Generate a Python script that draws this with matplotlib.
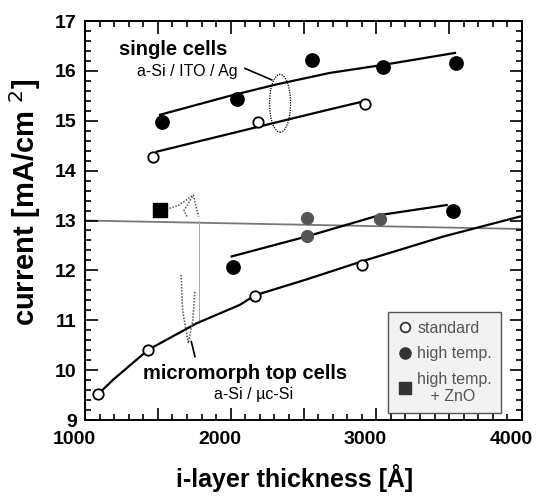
import matplotlib.pyplot as plt
import matplotlib.transforms as mtransforms
from matplotlib.patches import Ellipse
from matplotlib.ticker import FuncFormatter, MultipleLocator

plt.rcParams["font.family"] = ["Liberation Sans", "DejaVu Sans"]

# single cells a-Si / ITO / Ag
single_std_x = [1469, 2190, 2922]
single_std_y = [14.28, 14.98, 15.34]
single_hot_x = [1527, 2041, 2556, 3048, 3547]
single_hot_y = [14.98, 15.43, 16.21, 16.07, 16.16]

# micromorph top cells a-Si / uc-Si
micro_std_x = [1091, 1435, 2167, 2900]
micro_std_y = [9.52, 10.41, 11.49, 12.11]
micro_hot_x = [2018, 3528]
micro_hot_y = [12.06, 13.2]
micro_hot_grey_x = [2522, 2522, 3025]
micro_hot_grey_y = [12.68, 13.05, 13.03]
micro_zno_x = [1515]
micro_zno_y = [13.21]

# hand drawn guide lines
fit_single_hot_x = [1515, 1995, 2316, 2682, 3046, 3540]
fit_single_hot_y = [15.12, 15.5, 15.73, 15.96, 16.12, 16.36]
fit_single_std_x = [1492, 2190, 2682, 2900]
fit_single_std_y = [14.38, 14.88, 15.23, 15.38]
fit_micro_std_x = [1091, 1194, 1435, 1767, 2064, 2167, 2522, 2900, 3461, 3986]
fit_micro_std_y = [9.52, 9.81, 10.41, 10.94, 11.31, 11.5, 11.82, 12.18, 12.68, 13.08]
fit_micro_hot_x = [2007, 2522, 3025, 3483]
fit_micro_hot_y = [12.28, 12.68, 13.11, 13.31]

fig = plt.figure(figsize=(5.41, 4.98), dpi=100)
ax = fig.add_axes([0.1571, 0.1566, 0.8078, 0.8012])

# faint lines left by the scan
ax.plot([1000, 4000], [13.0, 12.83], color="#777777", lw=1.3, zorder=1)
ax.plot([1785, 1785], [13.0, 10.95], color="#aaaaaa", lw=0.7, zorder=1)

for fx, fy in [(fit_single_hot_x, fit_single_hot_y), (fit_single_std_x, fit_single_std_y),
               (fit_micro_std_x, fit_micro_std_y), (fit_micro_hot_x, fit_micro_hot_y)]:
    ax.plot(fx, fy, color="black", lw=1.6, zorder=2)

ax.plot(single_hot_x, single_hot_y, "o", ms=9.6, color="black", zorder=3)
ax.plot(single_std_x, single_std_y, "o", ms=7.5, mfc="white", mec="black", mew=1.3, zorder=3)
ax.plot(micro_std_x, micro_std_y, "o", ms=7.5, mfc="white", mec="black", mew=1.3, zorder=3)
ax.plot(micro_hot_x, micro_hot_y, "o", ms=9.6, color="black", zorder=3)
ax.plot(micro_hot_grey_x, micro_hot_grey_y, "o", ms=8.5, color="#555555", zorder=3)
ax.plot(micro_zno_x, micro_zno_y, "s", ms=10, color="black", zorder=3)

# annotation for single cells
ax.add_patch(Ellipse((2339, 15.35), 144, 1.16, fill=False, ls=(0, (1, 1)), lw=0.9, zorder=2))
ax.plot([2098, 2282], [16.05, 15.82], color="black", lw=1.2)
ax.text(1604, 16.42, "single cells", fontsize=14.5, fontweight="bold", ha="center", va="center")
ax.text(1704, 15.98, "a-Si / ITO / Ag", fontsize=11.5, ha="center", va="center")

# annotation for micromorph top cells
ax.plot([1660, 1670, 1700, 1709, 1740, 1755], [11.91, 11.2, 10.7, 10.54, 11.0, 11.6],
        color="#555555", ls=(0, (1, 1)), lw=1.1, zorder=2)
ax.plot([1540, 1640, 1744, 1780], [13.21, 13.3, 13.51, 13.08],
        color="#555555", ls=(0, (1, 1)), lw=1.1, zorder=2)
ax.plot([1700, 1680, 1744], [13.08, 13.2, 13.51], color="#555555", ls=(0, (1, 1)), lw=1.1)
ax.plot([1730, 1755], [10.57, 10.27], color="black", lw=1.2)
ax.text(2098, 9.93, "micromorph top cells", fontsize=14.5, fontweight="bold",
        ha="center", va="center")
ax.text(2160, 9.52, "a-Si / µc-Si", fontsize=11.5, ha="center", va="center")

ax.set_xlim(1000, 4000)
ax.set_ylim(9, 17)
ax.xaxis.set_major_locator(MultipleLocator(500))
ax.xaxis.set_minor_locator(MultipleLocator(100))
ax.xaxis.set_major_formatter(FuncFormatter(lambda v, p: "%d" % v if v % 1000 == 0 else ""))
ax.yaxis.set_major_locator(MultipleLocator(1))
ax.yaxis.set_minor_locator(MultipleLocator(0.2))
ax.tick_params(which="both", direction="in", top=True, right=True, width=1.2)
ax.tick_params(which="major", length=9, labelsize=14)
ax.tick_params(axis="x", which="major", pad=8)
ax.tick_params(axis="y", which="major", pad=6)
ax.tick_params(which="minor", length=4.5)
shift = mtransforms.ScaledTranslation(-8 / 72, 0, fig.dpi_scale_trans)
for lab in ax.get_xticklabels():
    lab.set_transform(lab.get_transform() + shift)
for lab in ax.get_xticklabels() + ax.get_yticklabels():
    lab.set_fontweight("bold")
for sp in ax.spines.values():
    sp.set_linewidth(1.4)

ax.set_xlabel("i-layer thickness [Å]", fontsize=18, fontweight="bold")
ax.xaxis.set_label_coords(0.48, -0.11)
ax.set_ylabel("current [mA/cm $^2$]", fontsize=21, fontweight="bold")
ax.yaxis.set_label_coords(-0.095, 0.546)

h1, = ax.plot([], [], "o", ms=7, mfc="white", mec="#333333", mew=1.3)
h2, = ax.plot([], [], "o", ms=8, color="#333333")
h3, = ax.plot([], [], "s", ms=8, color="#333333")
leg = ax.legend([h1, h2, h3], ["standard", "high temp.", "high temp.\n   + ZnO"],
                loc="lower left", bbox_to_anchor=(0.693, 0.018), borderaxespad=0,
                fontsize=11.5, frameon=True, fancybox=False, handletextpad=0.3,
                borderpad=0.55, labelspacing=0.65, handlelength=1.0, labelcolor="#555555")
leg.get_frame().set_edgecolor("#555555")
leg.get_frame().set_facecolor("#f2f2f2")
leg.get_frame().set_alpha(1)

fig.savefig("out.png", dpi=100)
